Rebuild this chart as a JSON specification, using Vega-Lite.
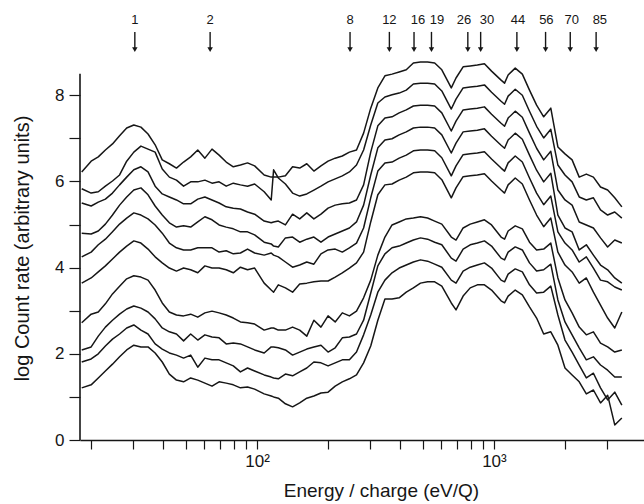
{
  "$schema": "https://vega.github.io/schema/vega-lite/v6.json",
  "width": 564,
  "height": 440,
  "autosize": {"type": "none"},
  "padding": {"left": 80, "top": 0, "right": 0, "bottom": 64},
  "background": "white",
  "config": {
    "view": {"stroke": null},
    "font": "Liberation Sans",
    "axis": {"grid": false}
  },
  "datasets": {
    "spectra": [
      {"E": 18.2, "L1": 6.22, "L2": 5.83, "L3": 5.50, "L4": 4.80, "L5": 4.25, "L6": 3.64, "L7": 2.72, "L8": 2.09, "L9": 1.81, "L10": 1.21},
      {"E": 19.95, "L1": 6.47, "L2": 5.73, "L3": 5.43, "L4": 4.78, "L5": 4.36, "L6": 3.76, "L7": 2.92, "L8": 2.16, "L9": 1.88, "L10": 1.28},
      {"E": 21.38, "L1": 6.57, "L2": 5.76, "L3": 5.52, "L4": 4.85, "L5": 4.53, "L6": 3.90, "L7": 2.97, "L8": 2.41, "L9": 2.00, "L10": 1.44},
      {"E": 22.91, "L1": 6.73, "L2": 5.89, "L3": 5.59, "L4": 5.01, "L5": 4.66, "L6": 4.04, "L7": 3.16, "L8": 2.62, "L9": 2.18, "L10": 1.60},
      {"E": 24.55, "L1": 6.87, "L2": 6.01, "L3": 5.73, "L4": 5.22, "L5": 4.83, "L6": 4.20, "L7": 3.39, "L8": 2.78, "L9": 2.34, "L10": 1.76},
      {"E": 26.3, "L1": 7.06, "L2": 6.15, "L3": 5.92, "L4": 5.45, "L5": 5.01, "L6": 4.36, "L7": 3.57, "L8": 2.92, "L9": 2.46, "L10": 1.93},
      {"E": 28.18, "L1": 7.24, "L2": 6.47, "L3": 6.10, "L4": 5.64, "L5": 5.15, "L6": 4.50, "L7": 3.74, "L8": 3.04, "L9": 2.60, "L10": 2.09},
      {"E": 30.2, "L1": 7.31, "L2": 6.68, "L3": 6.27, "L4": 5.80, "L5": 5.27, "L6": 4.62, "L7": 3.81, "L8": 3.11, "L9": 2.67, "L10": 2.20},
      {"E": 32.36, "L1": 7.26, "L2": 6.82, "L3": 6.34, "L4": 5.85, "L5": 5.22, "L6": 4.57, "L7": 3.78, "L8": 3.06, "L9": 2.55, "L10": 2.16},
      {"E": 34.67, "L1": 7.10, "L2": 6.75, "L3": 6.22, "L4": 5.69, "L5": 5.13, "L6": 4.43, "L7": 3.71, "L8": 2.97, "L9": 2.46, "L10": 2.16},
      {"E": 37.15, "L1": 6.85, "L2": 6.68, "L3": 5.89, "L4": 5.43, "L5": 4.99, "L6": 4.25, "L7": 3.48, "L8": 2.81, "L9": 2.23, "L10": 2.02},
      {"E": 39.81, "L1": 6.50, "L2": 6.29, "L3": 5.71, "L4": 5.22, "L5": 4.80, "L6": 4.11, "L7": 3.18, "L8": 2.60, "L9": 2.11, "L10": 1.81},
      {"E": 42.66, "L1": 6.41, "L2": 6.10, "L3": 5.64, "L4": 5.04, "L5": 4.57, "L6": 3.99, "L7": 2.97, "L8": 2.51, "L9": 2.02, "L10": 1.53},
      {"E": 45.71, "L1": 6.31, "L2": 6.03, "L3": 5.57, "L4": 4.94, "L5": 4.46, "L6": 3.92, "L7": 2.90, "L8": 2.46, "L9": 1.97, "L10": 1.39},
      {"E": 48.98, "L1": 6.45, "L2": 5.89, "L3": 5.48, "L4": 4.97, "L5": 4.41, "L6": 3.99, "L7": 2.88, "L8": 2.30, "L9": 1.90, "L10": 1.35},
      {"E": 52.48, "L1": 6.57, "L2": 5.99, "L3": 5.48, "L4": 4.94, "L5": 4.41, "L6": 3.95, "L7": 2.92, "L8": 2.46, "L9": 1.97, "L10": 1.44},
      {"E": 56.23, "L1": 6.73, "L2": 5.99, "L3": 5.59, "L4": 5.06, "L5": 4.46, "L6": 3.88, "L7": 2.85, "L8": 2.32, "L9": 1.69, "L10": 1.39},
      {"E": 60.26, "L1": 6.54, "L2": 6.03, "L3": 5.64, "L4": 5.18, "L5": 4.46, "L6": 4.04, "L7": 2.95, "L8": 2.44, "L9": 1.90, "L10": 1.32},
      {"E": 64.57, "L1": 6.75, "L2": 5.96, "L3": 5.57, "L4": 5.11, "L5": 4.46, "L6": 3.99, "L7": 2.99, "L8": 2.39, "L9": 1.86, "L10": 1.25},
      {"E": 69.18, "L1": 6.61, "L2": 5.99, "L3": 5.50, "L4": 4.99, "L5": 4.36, "L6": 3.99, "L7": 2.95, "L8": 2.37, "L9": 1.86, "L10": 1.35},
      {"E": 74.13, "L1": 6.45, "L2": 5.89, "L3": 5.41, "L4": 4.94, "L5": 4.39, "L6": 3.95, "L7": 2.90, "L8": 2.23, "L9": 1.79, "L10": 1.32},
      {"E": 79.43, "L1": 6.34, "L2": 5.96, "L3": 5.38, "L4": 4.90, "L5": 4.32, "L6": 3.88, "L7": 2.83, "L8": 2.25, "L9": 1.72, "L10": 1.28},
      {"E": 85.11, "L1": 6.38, "L2": 5.92, "L3": 5.36, "L4": 4.83, "L5": 4.34, "L6": 4.01, "L7": 2.74, "L8": 2.23, "L9": 1.58, "L10": 1.21},
      {"E": 91.2, "L1": 6.43, "L2": 5.89, "L3": 5.29, "L4": 4.83, "L5": 4.43, "L6": 3.95, "L7": 2.72, "L8": 2.16, "L9": 1.67, "L10": 1.23},
      {"E": 97.72, "L1": 6.36, "L2": 5.94, "L3": 5.24, "L4": 4.76, "L5": 4.34, "L6": 3.99, "L7": 2.69, "L8": 2.09, "L9": 1.60, "L10": 1.18},
      {"E": 107.2, "L1": 6.15, "L2": 5.76, "L3": 5.08, "L4": 4.59, "L5": 4.29, "L6": 3.64, "L7": 2.55, "L8": 2.02, "L9": 1.51, "L10": 1.07},
      {"E": 114.8, "L1": 6.10, "L2": 5.57, "L3": 5.04, "L4": 4.55, "L5": 4.34, "L6": 3.48, "L7": 2.60, "L8": 2.16, "L9": 1.46, "L10": 1.02},
      {"E": 117.5, "L1": 6.10, "L2": 6.27, "L3": 5.06, "L4": 4.50, "L5": 4.29, "L6": 3.43, "L7": 2.60, "L8": 2.16, "L9": 1.44, "L10": 1.00},
      {"E": 123.0, "L1": 6.10, "L2": 6.08, "L3": 5.08, "L4": 4.48, "L5": 4.25, "L6": 3.60, "L7": 2.55, "L8": 2.14, "L9": 1.42, "L10": 0.97},
      {"E": 131.8, "L1": 6.13, "L2": 5.94, "L3": 4.99, "L4": 4.69, "L5": 4.13, "L6": 3.53, "L7": 2.55, "L8": 2.09, "L9": 1.53, "L10": 0.84},
      {"E": 141.3, "L1": 6.34, "L2": 5.73, "L3": 5.24, "L4": 4.71, "L5": 4.01, "L6": 3.43, "L7": 2.62, "L8": 1.97, "L9": 1.49, "L10": 0.77},
      {"E": 151.4, "L1": 6.31, "L2": 5.66, "L3": 5.13, "L4": 4.59, "L5": 4.06, "L6": 3.62, "L7": 2.55, "L8": 2.04, "L9": 1.58, "L10": 0.86},
      {"E": 162.2, "L1": 6.41, "L2": 5.71, "L3": 5.27, "L4": 4.66, "L5": 4.13, "L6": 3.64, "L7": 2.41, "L8": 2.11, "L9": 1.67, "L10": 0.97},
      {"E": 173.8, "L1": 6.24, "L2": 5.80, "L3": 5.13, "L4": 4.71, "L5": 4.08, "L6": 3.67, "L7": 2.78, "L8": 2.16, "L9": 1.81, "L10": 1.02},
      {"E": 186.2, "L1": 6.36, "L2": 5.89, "L3": 5.24, "L4": 4.59, "L5": 4.32, "L6": 3.69, "L7": 2.62, "L8": 2.20, "L9": 1.79, "L10": 1.09},
      {"E": 199.5, "L1": 6.47, "L2": 5.99, "L3": 5.38, "L4": 4.71, "L5": 4.41, "L6": 3.69, "L7": 2.88, "L8": 2.04, "L9": 1.72, "L10": 1.11},
      {"E": 213.8, "L1": 6.54, "L2": 6.06, "L3": 5.45, "L4": 4.78, "L5": 4.43, "L6": 3.78, "L7": 2.74, "L8": 2.14, "L9": 1.79, "L10": 1.25},
      {"E": 229.1, "L1": 6.59, "L2": 6.13, "L3": 5.48, "L4": 4.85, "L5": 4.36, "L6": 3.88, "L7": 2.95, "L8": 2.37, "L9": 1.86, "L10": 1.35},
      {"E": 245.5, "L1": 6.68, "L2": 6.22, "L3": 5.50, "L4": 4.92, "L5": 4.46, "L6": 3.99, "L7": 2.88, "L8": 2.39, "L9": 1.86, "L10": 1.42},
      {"E": 263.0, "L1": 6.73, "L2": 6.38, "L3": 5.57, "L4": 5.06, "L5": 4.57, "L6": 4.11, "L7": 2.99, "L8": 2.46, "L9": 2.04, "L10": 1.51},
      {"E": 281.8, "L1": 7.12, "L2": 6.73, "L3": 5.92, "L4": 5.45, "L5": 4.92, "L6": 4.36, "L7": 3.30, "L8": 2.78, "L9": 2.44, "L10": 1.79},
      {"E": 302.0, "L1": 7.70, "L2": 7.31, "L3": 6.68, "L4": 6.15, "L5": 5.62, "L6": 5.06, "L7": 3.71, "L8": 3.41, "L9": 2.90, "L10": 2.18},
      {"E": 323.6, "L1": 8.17, "L2": 7.82, "L3": 7.29, "L4": 6.78, "L5": 6.24, "L6": 5.69, "L7": 4.29, "L8": 4.04, "L9": 3.43, "L10": 2.78},
      {"E": 346.7, "L1": 8.45, "L2": 7.96, "L3": 7.47, "L4": 6.96, "L5": 6.43, "L6": 5.92, "L7": 4.71, "L8": 4.32, "L9": 3.71, "L10": 3.27},
      {"E": 371.5, "L1": 8.49, "L2": 8.01, "L3": 7.50, "L4": 6.99, "L5": 6.45, "L6": 5.94, "L7": 4.99, "L8": 4.46, "L9": 3.88, "L10": 3.27},
      {"E": 398.1, "L1": 8.54, "L2": 8.05, "L3": 7.59, "L4": 7.08, "L5": 6.54, "L6": 6.03, "L7": 5.06, "L8": 4.50, "L9": 3.99, "L10": 3.30},
      {"E": 426.6, "L1": 8.59, "L2": 8.12, "L3": 7.66, "L4": 7.15, "L5": 6.61, "L6": 6.10, "L7": 5.13, "L8": 4.57, "L9": 4.06, "L10": 3.43},
      {"E": 457.1, "L1": 8.75, "L2": 8.26, "L3": 7.75, "L4": 7.24, "L5": 6.71, "L6": 6.20, "L7": 5.15, "L8": 4.64, "L9": 4.13, "L10": 3.53},
      {"E": 489.8, "L1": 8.77, "L2": 8.28, "L3": 7.77, "L4": 7.26, "L5": 6.73, "L6": 6.22, "L7": 5.18, "L8": 4.69, "L9": 4.18, "L10": 3.64},
      {"E": 524.8, "L1": 8.77, "L2": 8.28, "L3": 7.77, "L4": 7.26, "L5": 6.73, "L6": 6.22, "L7": 5.15, "L8": 4.66, "L9": 4.15, "L10": 3.67},
      {"E": 562.3, "L1": 8.75, "L2": 8.26, "L3": 7.75, "L4": 7.24, "L5": 6.71, "L6": 6.20, "L7": 5.08, "L8": 4.59, "L9": 4.08, "L10": 3.67},
      {"E": 602.6, "L1": 8.59, "L2": 8.10, "L3": 7.59, "L4": 7.08, "L5": 6.55, "L6": 6.04, "L7": 5.01, "L8": 4.53, "L9": 4.01, "L10": 3.57},
      {"E": 660.7, "L1": 8.17, "L2": 7.68, "L3": 7.17, "L4": 6.66, "L5": 6.13, "L6": 5.62, "L7": 4.71, "L8": 4.22, "L9": 3.71, "L10": 3.18},
      {"E": 691.8, "L1": 8.40, "L2": 7.91, "L3": 7.40, "L4": 6.89, "L5": 6.36, "L6": 5.85, "L7": 4.64, "L8": 4.15, "L9": 3.64, "L10": 3.02},
      {"E": 741.3, "L1": 8.66, "L2": 8.17, "L3": 7.66, "L4": 7.15, "L5": 6.62, "L6": 6.11, "L7": 4.92, "L8": 4.43, "L9": 3.92, "L10": 3.34},
      {"E": 794.3, "L1": 8.68, "L2": 8.19, "L3": 7.68, "L4": 7.17, "L5": 6.64, "L6": 6.13, "L7": 5.01, "L8": 4.53, "L9": 4.01, "L10": 3.53},
      {"E": 851.1, "L1": 8.70, "L2": 8.21, "L3": 7.70, "L4": 7.19, "L5": 6.66, "L6": 6.15, "L7": 5.06, "L8": 4.57, "L9": 4.06, "L10": 3.60},
      {"E": 912.0, "L1": 8.73, "L2": 8.24, "L3": 7.73, "L4": 7.22, "L5": 6.69, "L6": 6.18, "L7": 5.11, "L8": 4.62, "L9": 4.11, "L10": 3.60},
      {"E": 977.2, "L1": 8.56, "L2": 8.07, "L3": 7.56, "L4": 7.05, "L5": 6.52, "L6": 6.01, "L7": 4.99, "L8": 4.50, "L9": 3.99, "L10": 3.48},
      {"E": 1072, "L1": 8.35, "L2": 7.86, "L3": 7.35, "L4": 6.84, "L5": 6.31, "L6": 5.80, "L7": 4.71, "L8": 4.22, "L9": 3.71, "L10": 3.23},
      {"E": 1109, "L1": 8.28, "L2": 7.79, "L3": 7.28, "L4": 6.77, "L5": 6.24, "L6": 5.73, "L7": 4.66, "L8": 4.18, "L9": 3.67, "L10": 3.18},
      {"E": 1148, "L1": 8.47, "L2": 7.98, "L3": 7.47, "L4": 6.96, "L5": 6.43, "L6": 5.92, "L7": 4.85, "L8": 4.36, "L9": 3.85, "L10": 3.34},
      {"E": 1230, "L1": 8.63, "L2": 8.14, "L3": 7.63, "L4": 7.12, "L5": 6.59, "L6": 6.08, "L7": 4.97, "L8": 4.48, "L9": 3.97, "L10": 3.48},
      {"E": 1318, "L1": 8.49, "L2": 8.00, "L3": 7.49, "L4": 6.98, "L5": 6.45, "L6": 5.94, "L7": 4.90, "L8": 4.41, "L9": 3.90, "L10": 3.37},
      {"E": 1413, "L1": 8.12, "L2": 7.63, "L3": 7.12, "L4": 6.61, "L5": 6.08, "L6": 5.57, "L7": 4.59, "L8": 4.11, "L9": 3.60, "L10": 3.09},
      {"E": 1514, "L1": 7.77, "L2": 7.28, "L3": 6.77, "L4": 6.26, "L5": 5.73, "L6": 5.22, "L7": 4.41, "L8": 3.92, "L9": 3.41, "L10": 2.83},
      {"E": 1622, "L1": 7.50, "L2": 7.01, "L3": 6.50, "L4": 5.99, "L5": 5.46, "L6": 4.95, "L7": 4.43, "L8": 3.95, "L9": 3.43, "L10": 2.46},
      {"E": 1738, "L1": 7.70, "L2": 7.21, "L3": 6.70, "L4": 6.19, "L5": 5.66, "L6": 5.15, "L7": 4.57, "L8": 4.08, "L9": 3.57, "L10": 2.51},
      {"E": 1862, "L1": 6.80, "L2": 6.38, "L3": 5.80, "L4": 5.22, "L5": 4.83, "L6": 4.36, "L7": 3.76, "L8": 3.25, "L9": 2.90, "L10": 2.20},
      {"E": 1995, "L1": 6.64, "L2": 6.15, "L3": 5.57, "L4": 4.92, "L5": 4.57, "L6": 4.06, "L7": 3.25, "L8": 2.74, "L9": 2.32, "L10": 1.67},
      {"E": 2138, "L1": 6.50, "L2": 5.99, "L3": 5.45, "L4": 4.83, "L5": 4.41, "L6": 3.90, "L7": 2.95, "L8": 2.44, "L9": 2.04, "L10": 1.51},
      {"E": 2291, "L1": 6.10, "L2": 5.64, "L3": 5.06, "L4": 4.41, "L5": 4.13, "L6": 3.64, "L7": 2.62, "L8": 2.14, "L9": 1.74, "L10": 1.35},
      {"E": 2455, "L1": 6.17, "L2": 5.57, "L3": 4.99, "L4": 4.53, "L5": 4.25, "L6": 3.76, "L7": 2.44, "L8": 1.86, "L9": 1.44, "L10": 1.07},
      {"E": 2630, "L1": 6.10, "L2": 5.62, "L3": 4.92, "L4": 4.29, "L5": 3.99, "L6": 3.43, "L7": 2.51, "L8": 1.93, "L9": 1.55, "L10": 1.16},
      {"E": 2818, "L1": 5.87, "L2": 5.34, "L3": 4.69, "L4": 4.06, "L5": 3.71, "L6": 3.13, "L7": 2.25, "L8": 1.74, "L9": 1.21, "L10": 0.86},
      {"E": 3020, "L1": 5.80, "L2": 5.22, "L3": 4.48, "L4": 3.95, "L5": 3.67, "L6": 2.83, "L7": 2.16, "L8": 1.62, "L9": 0.93, "L10": 1.04},
      {"E": 3236, "L1": 5.62, "L2": 5.29, "L3": 4.64, "L4": 3.76, "L5": 3.55, "L6": 2.60, "L7": 2.04, "L8": 1.46, "L9": 1.11, "L10": 0.35},
      {"E": 3467, "L1": 5.41, "L2": 5.15, "L3": 4.57, "L4": 3.64, "L5": 3.48, "L6": 2.97, "L7": 2.09, "L8": 1.46, "L9": 0.81, "L10": 0.51}
    ],
    "arrows": [
      {"E": 30.5, "labelE": 30.5, "label": "1"},
      {"E": 63.4, "labelE": 63.4, "label": "2"},
      {"E": 247, "labelE": 247, "label": "8"},
      {"E": 362, "labelE": 362, "label": "12"},
      {"E": 460, "labelE": 478, "label": "16"},
      {"E": 545, "labelE": 575, "label": "19"},
      {"E": 776, "labelE": 748, "label": "26"},
      {"E": 879, "labelE": 935, "label": "30"},
      {"E": 1250, "labelE": 1264, "label": "44"},
      {"E": 1652, "labelE": 1665, "label": "56"},
      {"E": 2100, "labelE": 2130, "label": "70"},
      {"E": 2700, "labelE": 2800, "label": "85"}
    ]
  },
  "layer": [
    {
      "data": {"name": "spectra"},
      "transform": [
        {"fold": ["L1", "L2", "L3", "L4", "L5", "L6", "L7", "L8", "L9", "L10"], "as": ["curve", "value"]}
      ],
      "mark": {"type": "line", "color": "#161616", "strokeWidth": 1.5, "strokeJoin": "round"},
      "encoding": {
        "x": {
          "field": "E",
          "type": "quantitative",
          "scale": {"type": "log", "domain": [17.9, 4300], "nice": false},
          "axis": {
            "title": "Energy / charge (eV/Q)",
            "values": [20, 30, 40, 50, 60, 70, 80, 90, 100, 200, 300, 400, 500, 600, 700, 800, 900, 1000, 2000, 3000],
            "labelExpr": "datum.value == 100 ? '10²' : (datum.value == 1000 ? '10³' : '')",
            "labelOverlap": false,
            "labelFlush": false,
            "labelBound": false,
            "tickSize": 9,
            "tickWidth": 1.2,
            "tickColor": "#161616",
            "domainColor": "#161616",
            "domainWidth": 1.4,
            "labelFontSize": 17,
            "labelPadding": 4,
            "labelColor": "#161616",
            "titleFontSize": 19,
            "titleFontWeight": "normal",
            "titleColor": "#161616",
            "titleX": 301,
            "titleY": 41
          }
        },
        "y": {
          "field": "value",
          "type": "quantitative",
          "scale": {"domain": [0, 10.21], "nice": false, "zero": false},
          "axis": {
            "title": "log Count rate (arbitrary units)",
            "values": [0, 1, 2, 3, 4, 5, 6, 7, 8],
            "labelExpr": "datum.value % 2 == 0 ? datum.label : ''",
            "labelOverlap": false,
            "labelBound": false,
            "domain": false,
            "tickSize": 11,
            "tickWidth": 1.2,
            "tickColor": "#161616",
            "labelFontSize": 17,
            "labelPadding": 5,
            "labelColor": "#161616",
            "titleFontSize": 20,
            "titleFontWeight": "normal",
            "titleColor": "#161616",
            "titleX": -48,
            "titleY": 248
          }
        },
        "detail": {"field": "curve"}
      }
    },
    {
      "data": {"values": [{"axis": "y"}]},
      "mark": {"type": "rule", "color": "#161616", "strokeWidth": 1.6},
      "encoding": {
        "x": {"datum": 17.9},
        "y": {"datum": 0},
        "y2": {"datum": 8.5}
      }
    },
    {
      "data": {"name": "arrows"},
      "mark": {"type": "rule", "color": "#161616", "strokeWidth": 1.4},
      "encoding": {
        "x": {"field": "E", "type": "quantitative"},
        "y": {"datum": 9.47},
        "y2": {"datum": 9.08}
      }
    },
    {
      "data": {"name": "arrows"},
      "mark": {"type": "point", "shape": "triangle-down", "filled": true, "color": "#161616", "size": 30, "opacity": 1},
      "encoding": {
        "x": {"field": "E", "type": "quantitative"},
        "y": {"datum": 9.06}
      }
    },
    {
      "data": {"name": "arrows"},
      "mark": {"type": "text", "fontSize": 13, "font": "Liberation Sans", "color": "#161616", "baseline": "middle", "align": "center"},
      "encoding": {
        "x": {"field": "labelE", "type": "quantitative"},
        "y": {"datum": 9.74},
        "text": {"field": "label"}
      }
    }
  ]
}
